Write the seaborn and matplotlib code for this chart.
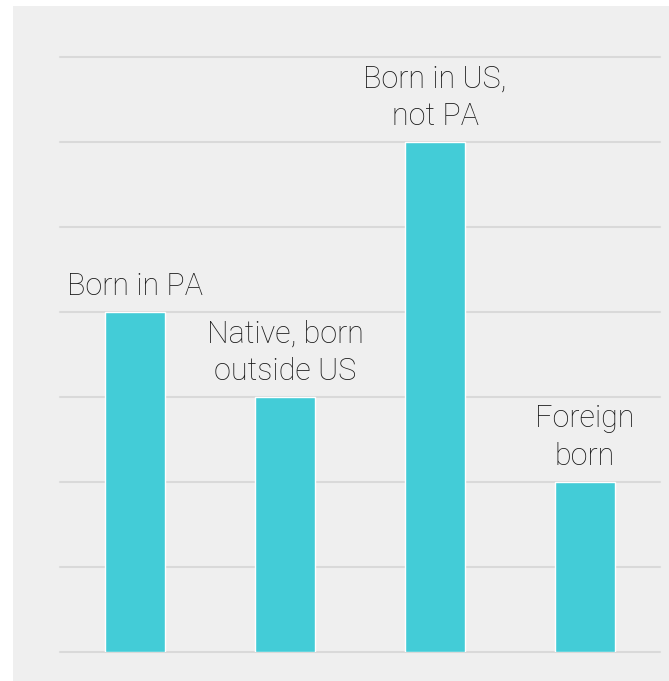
import pandas as pd
import seaborn as sns
import matplotlib.pyplot as plt
from matplotlib.patches import Rectangle

# Data
categories = ["Born in PA", "Native, born outside US", "Born in US, not PA", "Foreign born"]
labels = ["Born in PA", "Native, born\noutside US", "Born in US,\nnot PA", "Foreign\nborn"]
values = [4, 3, 6, 2]

df = pd.DataFrame({"cat": categories, "val": values})

sns.set_style("white")
plt.rcParams['font.family'] = ['Roboto', 'DejaVu Sans']

bg = "#efefef"
fig = plt.figure(figsize=(6.69, 6.81), dpi=100, facecolor="white")
# gray panel behind the plot, with a white margin top/left
fig.patches.append(Rectangle((13 / 669, 0), 1, 1 - 6 / 681, transform=fig.transFigure,
                             facecolor=bg, edgecolor="none", zorder=-10))
ax = fig.add_axes([60 / 669, 29 / 681, 600 / 669, 595 / 681])
ax.set_facecolor(bg)
ax.set_zorder(1)

sns.barplot(data=df, x="cat", y="val", color="#43ccd7", width=0.4,
            saturation=1, ax=ax, zorder=3)

ax.set_ylim(0, 7)
ax.set_xlim(-0.5, 3.5)
for y in range(0, 8):
    ax.axhline(y, color="#d9d9d9", lw=1.5, zorder=1, clip_on=False)

for i, (lab, v) in enumerate(zip(labels, values)):
    ax.text(i, v + 0.13, lab, ha="center", va="bottom", fontsize=22,
            fontweight="light", color="#1a1a1a", linespacing=1.38)

ax.set_xlabel("")
ax.set_ylabel("")
ax.set_xticks([])
ax.set_yticks([])
sns.despine(ax=ax, left=True, bottom=True)

fig.savefig("out.png", dpi=100, facecolor="white")
